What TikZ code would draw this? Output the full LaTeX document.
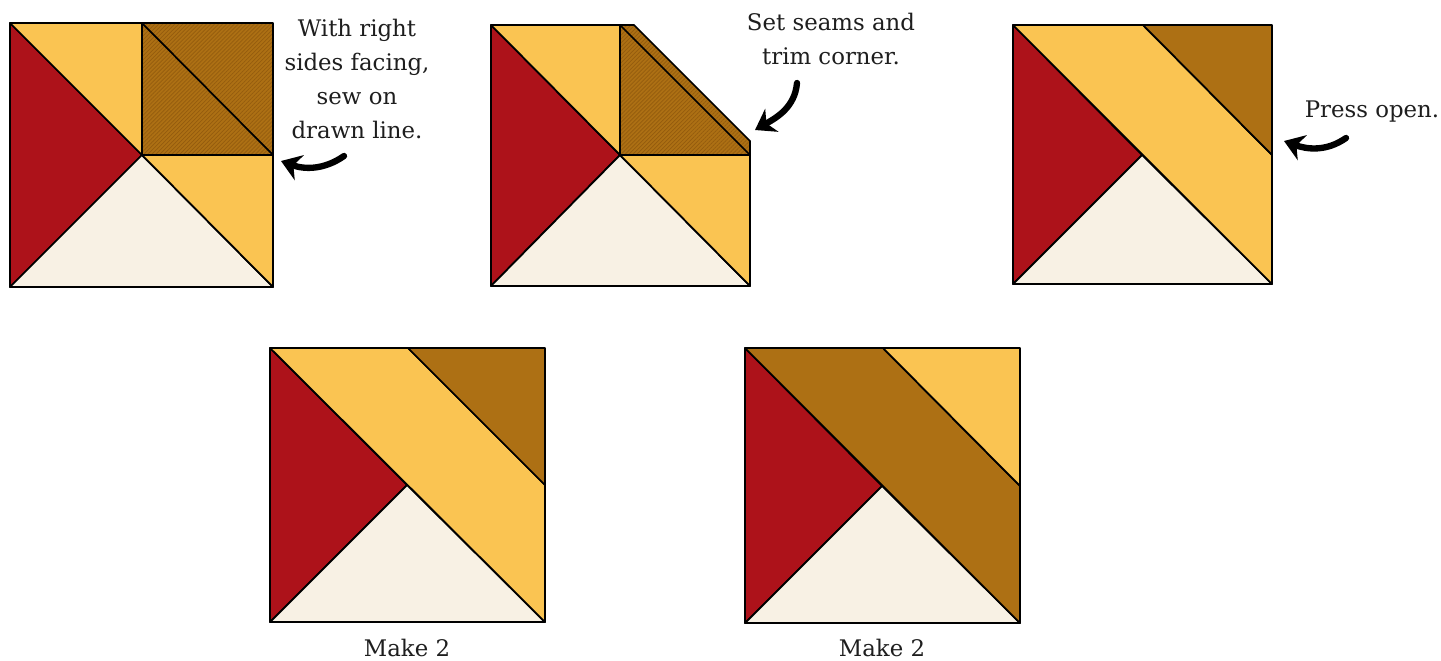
\documentclass[tikz,border=0pt]{standalone}
\usepackage{fontspec}
\setmainfont{DejaVu Serif}
\usetikzlibrary{arrows.meta,patterns.meta}
\definecolor{quiltred}{RGB}{173,18,26}
\definecolor{quiltgold}{RGB}{250,196,82}
\definecolor{quiltbrown}{RGB}{173,112,20}
\definecolor{quiltdark}{RGB}{148,92,14}
\definecolor{quiltcream}{RGB}{248,241,228}
\definecolor{inktext}{RGB}{30,30,30}
\tikzset{
  piece/.style={draw=black,line width=1pt,line join=round},
  hatch/.style={pattern={Lines[angle=45,distance=1.6pt,line width=0.4pt]},pattern color=quiltdark},
  note/.style={align=center,text=inktext,font=\fontsize{13}{19.5}\selectfont,inner sep=0pt},
  brush/.style={line width=3.6pt,line cap=round,-{Stealth[length=11pt,width=15pt,inset=3.5pt]}}
}
\begin{document}
\begin{tikzpicture}[x=0.02cm,y=-0.02cm]
\useasboundingbox (0,0) rectangle (1441,660);
% first block: sew on the drawn line
\fill[piece,fill=quiltred] (10,23)--(142,155)--(10,287)--cycle;
\fill[piece,fill=quiltcream] (10,287)--(142,155)--(273,287)--cycle;
\fill[piece,fill=quiltgold] (10,23)--(142,23)--(142,155)--cycle;
\fill[piece,fill=quiltgold] (142,155)--(273,155)--(273,287)--cycle;
\fill[fill=quiltbrown] (142,23) rectangle (273,155);
\fill[hatch] (142,23) rectangle (273,155);
\draw[piece] (142,23) rectangle (273,155);\draw[piece] (142,23)--(273,155);
% second block: trim corner
\fill[piece,fill=quiltred] (491,25)--(620,155)--(491,286)--cycle;
\fill[piece,fill=quiltcream] (491,286)--(620,155)--(750,286)--cycle;
\fill[piece,fill=quiltgold] (491,25)--(620,25)--(620,155)--cycle;
\fill[piece,fill=quiltgold] (620,155)--(750,155)--(750,286)--cycle;
\fill[fill=quiltbrown] (620,25)--(634,25)--(750,141)--(750,155)--(620,155)--cycle;
\fill[hatch] (620,25)--(634,25)--(750,141)--(750,155)--(620,155)--cycle;
\draw[piece] (620,25)--(634,25)--(750,141)--(750,155)--(620,155)--cycle;\draw[piece] (620,25)--(750,155);
% third block: press open
\fill[piece,fill=quiltred] (1013,25)--(1142,155)--(1013,284)--cycle;
\fill[piece,fill=quiltcream] (1013,284)--(1142,155)--(1272,284)--cycle;
\fill[piece,fill=quiltgold] (1013,25)--(1143,25)--(1272,155)--(1272,284)--cycle;
\fill[piece,fill=quiltbrown] (1143,25)--(1272,25)--(1272,155)--cycle;
% finished blocks
\fill[piece,fill=quiltred] (270,348)--(407,485)--(270,622)--cycle;
\fill[piece,fill=quiltcream] (270,622)--(407,485)--(545,622)--cycle;
\fill[piece,fill=quiltgold] (270,348)--(408,348)--(545,485)--(545,622)--cycle;
\fill[piece,fill=quiltbrown] (408,348)--(545,348)--(545,485)--cycle;
\fill[piece,fill=quiltred] (745,348)--(882,486)--(745,623)--cycle;
\fill[piece,fill=quiltcream] (745,623)--(882,486)--(1020,623)--cycle;
\fill[piece,fill=quiltbrown] (745,348)--(883,348)--(1020,486)--(1020,623)--cycle;
\fill[piece,fill=quiltgold] (883,348)--(1020,348)--(1020,486)--cycle;
% notes
\node[note] (sew) at (357,79) {With right\\sides facing,\\sew on\\drawn line.};
\node[note] (trim) at (831,39) {Set seams and\\trim corner.};
\node[note] (press) at (1372,112) {Press open.};
\node[note] (makeA) at (407,648) {Make 2};
\node[note] (makeB) at (882,648) {Make 2};
% arrows
\coordinate (sewtail) at (344,156);\coordinate (sewhead) at (281,161);
\coordinate (trimtail) at (797,83);\coordinate (trimhead) at (755,130);
\coordinate (presstail) at (1346,138);\coordinate (presshead) at (1284,141);
\draw[brush] (sewtail) to[out=215,in=-20] (sewhead);
\draw[brush] (trimtail) to[out=265,in=30] (trimhead);
\draw[brush] (presstail) to[out=215,in=-20] (presshead);
\end{tikzpicture}
\end{document}
